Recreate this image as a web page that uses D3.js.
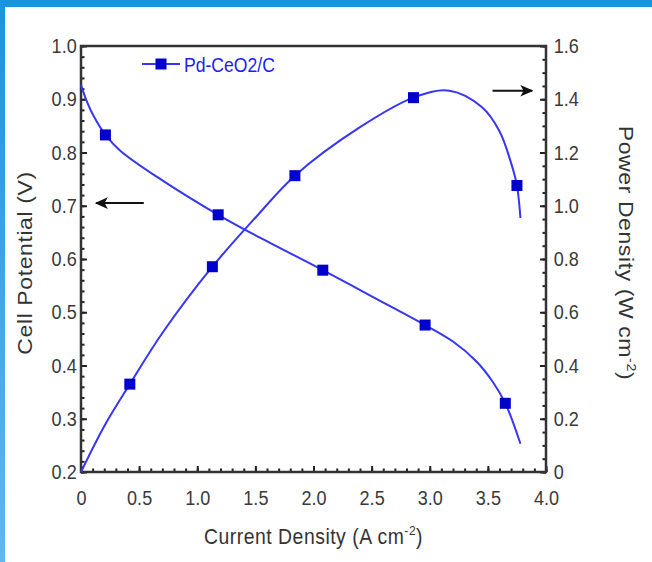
<!DOCTYPE html>
<html>
<head>
<meta charset="utf-8">
<script src="https://cdn.jsdelivr.net/npm/d3@7"></script>
<style>
  body { margin: 0; background: #fff; }
  svg { display: block; }
</style>
</head>
<body>
<svg id="chart" width="652" height="562"></svg>
<script>
// polarization curve (left axis)
const currentV = [0, 0.05, 0.11, 0.21, 0.34, 0.69, 1.18, 1.54, 2.08, 2.5, 2.96, 3.2, 3.4, 3.54, 3.65, 3.78];
const potential = [0.927, 0.896, 0.868, 0.833, 0.803, 0.749, 0.683, 0.640, 0.579, 0.530, 0.476, 0.445, 0.408, 0.370, 0.329, 0.253];
const markerCurrentV = [0.21, 1.18, 2.08, 2.96, 3.65];
const markerPotential = [0.833, 0.683, 0.579, 0.476, 0.329];

// power density curve (right axis)
const currentP = [0, 0.2, 0.42, 0.7, 1.13, 1.5, 1.84, 2.4, 2.86, 3.17, 3.45, 3.6, 3.7, 3.75, 3.78];
const power = [0, 0.172, 0.33, 0.522, 0.771, 0.955, 1.113, 1.295, 1.406, 1.432, 1.37, 1.28, 1.16, 1.076, 0.954];
const markerCurrentP = [0.42, 1.13, 1.84, 2.86, 3.75];
const markerPower = [0.33, 0.771, 1.113, 1.406, 1.076];

const xTicks = [0, 0.5, 1.0, 1.5, 2.0, 2.5, 3.0, 3.5, 4.0];
const yLeftTicks = [0.2, 0.3, 0.4, 0.5, 0.6, 0.7, 0.8, 0.9, 1.0];
const yRightTicks = [0, 0.2, 0.4, 0.6, 0.8, 1.0, 1.2, 1.4, 1.6];
const seriesName = "Pd-CeO2/C";

// annotation arrows, in data units
const arrowLeft = { from: 0.54, to: 0.13, y: 0.705 };
const arrowRight = { from: 3.54, to: 3.88, y: 1.432 };

const svg = d3.select("#chart");
const W = 652, H = 562;
const box = { left: 81, right: 546, top: 46, bottom: 472 };
const FONT = "'Liberation Sans', Arial, sans-serif";
const LINE_COLOR = "#3636f4";
const MARK_COLOR = "#0000cc";

// blue frame of the slide
const defs = svg.append("defs");
const grad = defs.append("linearGradient")
    .attr("id", "edge").attr("x1", 0).attr("y1", 0).attr("x2", 0).attr("y2", 1);
grad.append("stop").attr("offset", "0%").attr("stop-color", "#1a94e0");
grad.append("stop").attr("offset", "100%").attr("stop-color", "#63b6ee");
svg.append("rect").attr("x", 0).attr("y", 0).attr("width", 5).attr("height", H).attr("fill", "url(#edge)");
svg.append("rect").attr("x", 0).attr("y", 0).attr("width", W).attr("height", 7).attr("fill", "#1a94e0");

defs.append("marker")
    .attr("id", "arrowhead")
    .attr("viewBox", "0 0 10 10")
    .attr("refX", 9).attr("refY", 5)
    .attr("markerWidth", 6.5).attr("markerHeight", 6.5)
    .attr("markerUnits", "strokeWidth")
    .attr("orient", "auto")
    .append("path")
    .attr("d", "M0,0.5 L10,5 L0,9.5 L2.5,5 Z")
    .attr("fill", "#111");

const x = d3.scaleLinear().domain([0, 4]).range([box.left, box.right]);
const yL = d3.scaleLinear().domain([0.2, 1.0]).range([box.bottom, box.top]);
const yR = d3.scaleLinear().domain([0, 1.6]).range([box.bottom, box.top]);

const fmt1 = d3.format(".1f");
const fmtZero = d => d === 0 ? "0" : fmt1(d);

function styleAxis(g) {
    g.select(".domain").remove();
    g.selectAll("line").attr("stroke", "#222").attr("stroke-width", 2);
    g.selectAll("text")
        .attr("font-size", 21)
        .attr("font-family", FONT)
        .attr("fill", "#3a3a3a")
        .attr("transform", "scale(0.86,1)");
}

// minor ticks
svg.append("g")
    .attr("transform", `translate(0,${box.bottom})`)
    .call(d3.axisBottom(x).tickValues(d3.range(0, 41).map(d => d / 10)).tickSize(-3.5).tickFormat(""))
    .call(styleAxis);
svg.append("g")
    .attr("transform", `translate(${box.left},0)`)
    .call(d3.axisLeft(yL).tickValues(d3.range(10, 51).map(d => d / 50)).tickSize(-3.5).tickFormat(""))
    .call(styleAxis);
svg.append("g")
    .attr("transform", `translate(${box.right},0)`)
    .call(d3.axisRight(yR).tickValues(d3.range(0, 33).map(d => d / 20)).tickSize(-3.5).tickFormat(""))
    .call(styleAxis);

// major ticks + labels
svg.append("g")
    .attr("transform", `translate(0,${box.bottom})`)
    .call(d3.axisBottom(x).tickValues(xTicks).tickSize(-6).tickPadding(18).tickFormat(fmtZero))
    .call(styleAxis);
svg.append("g")
    .attr("transform", `translate(${box.left},0)`)
    .call(d3.axisLeft(yL).tickValues(yLeftTicks).tickSize(-6).tickPadding(5).tickFormat(fmt1))
    .call(styleAxis);
svg.append("g")
    .attr("transform", `translate(${box.right},0)`)
    .call(d3.axisRight(yR).tickValues(yRightTicks).tickSize(-6).tickPadding(9).tickFormat(fmtZero))
    .call(styleAxis);

// plot frame
svg.append("rect")
    .attr("x", box.left).attr("y", box.top)
    .attr("width", box.right - box.left).attr("height", box.bottom - box.top)
    .attr("fill", "none").attr("stroke", "#333").attr("stroke-width", 2.5);

// curves
const smooth = d3.curveCatmullRom.alpha(0.5);
const lineV = d3.line().x(i => x(currentV[i])).y(i => yL(potential[i])).curve(smooth);
const lineP = d3.line().x(i => x(currentP[i])).y(i => yR(power[i])).curve(smooth);

svg.append("path")
    .attr("d", lineV(d3.range(currentV.length)))
    .attr("fill", "none").attr("stroke", LINE_COLOR).attr("stroke-width", 2);
svg.append("path")
    .attr("d", lineP(d3.range(currentP.length)))
    .attr("fill", "none").attr("stroke", LINE_COLOR).attr("stroke-width", 2);

const S = 11;
svg.append("g").selectAll("rect")
    .data(d3.range(markerCurrentV.length))
    .join("rect")
    .attr("x", i => x(markerCurrentV[i]) - S / 2)
    .attr("y", i => yL(markerPotential[i]) - S / 2)
    .attr("width", S).attr("height", S)
    .attr("fill", MARK_COLOR);
svg.append("g").selectAll("rect")
    .data(d3.range(markerCurrentP.length))
    .join("rect")
    .attr("x", i => x(markerCurrentP[i]) - S / 2)
    .attr("y", i => yR(markerPower[i]) - S / 2)
    .attr("width", S).attr("height", S)
    .attr("fill", MARK_COLOR);

// arrows
svg.append("line")
    .attr("x1", x(arrowLeft.from)).attr("x2", x(arrowLeft.to))
    .attr("y1", yL(arrowLeft.y)).attr("y2", yL(arrowLeft.y))
    .attr("stroke", "#111").attr("stroke-width", 2)
    .attr("marker-end", "url(#arrowhead)");
svg.append("line")
    .attr("x1", x(arrowRight.from)).attr("x2", x(arrowRight.to))
    .attr("y1", yR(arrowRight.y)).attr("y2", yR(arrowRight.y))
    .attr("stroke", "#111").attr("stroke-width", 2)
    .attr("marker-end", "url(#arrowhead)");

// legend
const leg = svg.append("g").attr("transform", "translate(142,64)");
leg.append("line").attr("x1", 0).attr("x2", 38).attr("y1", 0).attr("y2", 0)
    .attr("stroke", LINE_COLOR).attr("stroke-width", 2);
leg.append("rect").attr("x", 19 - S / 2).attr("y", -S / 2).attr("width", S).attr("height", S)
    .attr("fill", MARK_COLOR);
leg.append("text")
    .attr("transform", "translate(42,8) scale(0.88,1)")
    .attr("font-family", FONT).attr("font-size", 20)
    .attr("fill", "#1c1ce8")
    .text(seriesName);

// axis titles; the source image is squeezed horizontally, so scale along screen x
function title(g, parts, size, squeeze) {
    const t = g.append("text")
        .attr("text-anchor", "middle")
        .attr("font-family", FONT).attr("font-size", size)
        .attr("fill", "#333")
        .attr("letter-spacing", 0.6)
        .attr("transform", squeeze);
    parts.forEach(p => {
        const ts = t.append("tspan").text(p.text);
        if (p.sup) ts.attr("font-size", size * 0.62).attr("dy", -size * 0.4);
        if (p.down) ts.attr("dy", size * 0.4);
    });
}
title(svg.append("g").attr("transform", `translate(${(box.left + box.right) / 2},544)`),
    [{ text: "Current Density (A cm" }, { text: "-2", sup: true }, { text: ")", down: true }],
    22, "scale(0.88,1)");
title(svg.append("g").attr("transform", `translate(32,${(box.top + box.bottom) / 2 + 4}) rotate(-90)`),
    [{ text: "Cell Potential (V)" }],
    23, "scale(1,0.86)");
title(svg.append("g").attr("transform", `translate(619,${(box.top + box.bottom) / 2 - 6}) rotate(90)`),
    [{ text: "Power Density (W cm" }, { text: "-2", sup: true }, { text: ")", down: true }],
    23, "scale(1,0.86)");
</script>
</body>
</html>
